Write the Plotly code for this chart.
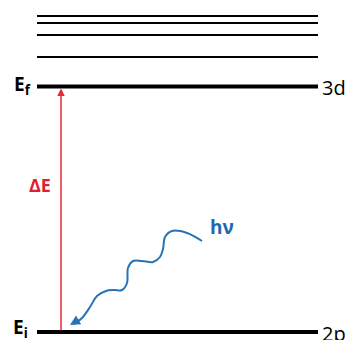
import plotly.graph_objects as go

# energy levels (drawn in a screen-like coordinate, y grows downward)
level_y = [16, 23, 35, 57, 86.5, 332]
level_width = [2, 2, 2, 2, 4, 4]
level_x = [37, 318]

level_names = ["Ef", "Ei"]
orbitals = ["3d", "2p"]

# photon squiggle
wave_x = [202, 187, 172, 165, 163, 160, 153, 142, 133, 128, 127, 122, 114, 106, 97, 90, 82, 74]
wave_y = [241, 233, 231, 237, 249, 257, 262, 261, 261, 268, 283, 290, 290, 291, 296, 307, 318, 324]

fig = go.Figure()

for y, w in zip(level_y, level_width):
    fig.add_trace(go.Scatter(x=level_x, y=[y, y], mode="lines",
                             line=dict(color="black", width=w), hoverinfo="skip"))

fig.add_trace(go.Scatter(x=wave_x, y=wave_y, mode="lines",
                         line=dict(color="#2673b8", width=2, shape="spline", smoothing=1.0),
                         hoverinfo="skip"))

# red arrow Ei -> Ef
fig.add_annotation(x=61, y=level_y[4] + 2, ax=61, ay=level_y[5], xref="x", yref="y",
                   axref="x", ayref="y", showarrow=True, arrowhead=2, arrowsize=1,
                   arrowwidth=1.5, arrowcolor="#e8283a", text="")
# photon arrow head
fig.add_annotation(x=70, y=325, ax=80, ay=319, xref="x", yref="y",
                   axref="x", ayref="y", showarrow=True, arrowhead=2, arrowsize=1,
                   arrowwidth=2, arrowcolor="#2673b8", text="")

fnt = "Open Sans"
fig.add_annotation(x=22, y=level_y[4] - 2, text="<b>E<sub>f</sub></b>", showarrow=False,
                   font=dict(family=fnt, size=19, color="black"))
fig.add_annotation(x=20, y=level_y[5] - 4, text="<b>E<sub>i</sub></b>", showarrow=False,
                   font=dict(family=fnt, size=19, color="black"))
fig.add_annotation(x=320, y=level_y[4] + 1, text=orbitals[0], showarrow=False, xanchor="left",
                   font=dict(family=fnt, size=20, color="black"))
fig.add_annotation(x=320, y=level_y[5] + 1, text=orbitals[1], showarrow=False, xanchor="left",
                   font=dict(family=fnt, size=20, color="black"))
fig.add_annotation(x=40, y=185, text="<b>ΔE</b>", showarrow=False,
                   font=dict(family=fnt, size=18, color="#e0202e"))
fig.add_annotation(x=222, y=227, text="<b>hν</b>", showarrow=False,
                   font=dict(family=fnt, size=19, color="#2068ad"))

fig.update_layout(width=350, height=340, autosize=False, showlegend=False,
                  margin=dict(l=0, r=0, t=0, b=0),
                  plot_bgcolor="white", paper_bgcolor="white")
fig.update_xaxes(range=[0, 350], visible=False)
fig.update_yaxes(range=[340, 0], visible=False)

# drop the default page margin so the figure fills the window
fig.write_html("out.html", config={"displayModeBar": False},
               post_script="document.body.style.margin='0';document.body.style.overflow='hidden';")
